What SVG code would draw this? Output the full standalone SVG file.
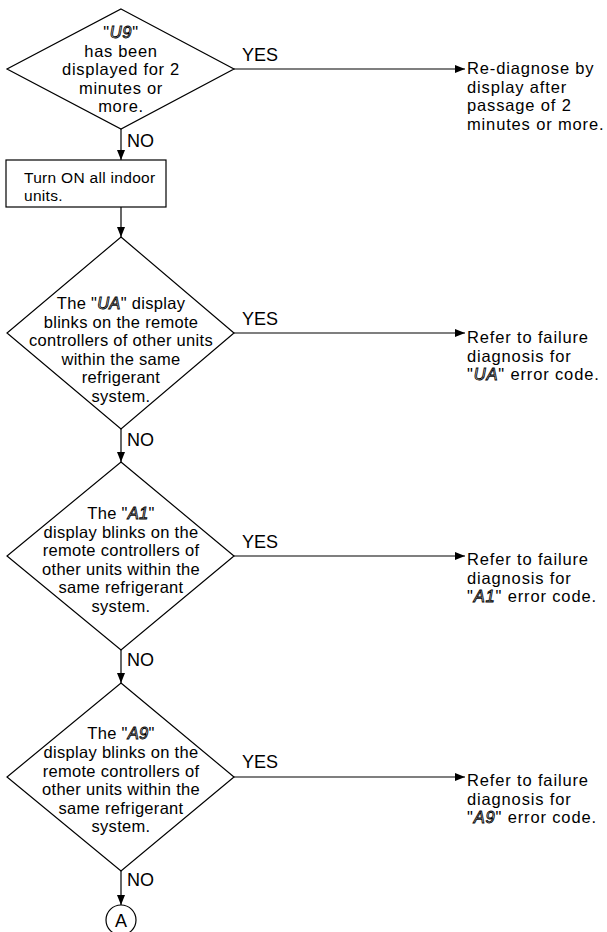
<svg xmlns="http://www.w3.org/2000/svg" width="607" height="932" viewBox="0 0 607 932">
<style>
text{font-family:"Liberation Sans",Arial,sans-serif;font-size:16.5px;letter-spacing:0.3px;fill:#000}
.c{text-anchor:middle}
.d1{letter-spacing:0.7px}
.rt{letter-spacing:0.85px}
.lb{font-size:18px;letter-spacing:0}
.bx{font-size:15.5px;letter-spacing:0.3px}
.seg{font-style:italic;fill:#fff;stroke:#000;stroke-width:0.9px}
.shape{fill:#fff;stroke:#000;stroke-width:1.2}
.ln{fill:none;stroke:#000;stroke-width:1.2}
</style>
<defs>
<marker id="ah" viewBox="0 0 10 8" refX="10" refY="4" markerWidth="10" markerHeight="8" markerUnits="userSpaceOnUse" orient="auto">
<path d="M0,0 L10,4 L0,8 Z" fill="#000"/>
</marker>
</defs>
<rect width="607" height="932" fill="#fff"/>
<g id="connectors">
<line class="ln" x1="121" y1="129" x2="121" y2="160" marker-end="url(#ah)"/>
<line class="ln" x1="121" y1="207" x2="121" y2="237" marker-end="url(#ah)"/>
<line class="ln" x1="121" y1="429" x2="121" y2="462" marker-end="url(#ah)"/>
<line class="ln" x1="121" y1="650" x2="121" y2="683" marker-end="url(#ah)"/>
<line class="ln" x1="121" y1="871" x2="121" y2="905" marker-end="url(#ah)"/>
<line class="ln" x1="234" y1="69" x2="465" y2="69" marker-end="url(#ah)"/>
<line class="ln" x1="234" y1="333" x2="465" y2="333" marker-end="url(#ah)"/>
<line class="ln" x1="234" y1="556" x2="465" y2="556" marker-end="url(#ah)"/>
<line class="ln" x1="234" y1="777" x2="465" y2="777" marker-end="url(#ah)"/>
<text class="lb" x="242" y="61">YES</text>
<text class="lb" x="242" y="325">YES</text>
<text class="lb" x="242" y="548">YES</text>
<text class="lb" x="242" y="768">YES</text>
<text class="lb" x="127" y="147">NO</text>
<text class="lb" x="127" y="446">NO</text>
<text class="lb" x="127" y="666">NO</text>
<text class="lb" x="127" y="886">NO</text>
</g>
<g id="d1">
<polygon class="shape" points="121,9 234,69 121,129 7,69"/>
<text class="c d1" x="121" y="38">"<tspan class="seg">U9</tspan>"</text>
<text class="c d1" x="121" y="56.5">has been</text>
<text class="c d1" x="121" y="75">displayed for 2</text>
<text class="c d1" x="121" y="93.5">minutes or</text>
<text class="c d1" x="121" y="112">more.</text>
</g>
<g id="r1">
<text class="rt" x="467" y="74">Re-diagnose by</text>
<text class="rt" x="467" y="92.5">display after</text>
<text class="rt" x="467" y="111">passage of 2</text>
<text class="rt" x="467" y="129.5">minutes or more.</text>
</g>
<g id="box">
<rect class="shape" x="6" y="160" width="160" height="47"/>
<text class="bx" x="24" y="183">Turn ON all indoor</text>
<text class="bx" x="24" y="200.5">units.</text>
</g>
<g id="d2">
<polygon class="shape" points="121,237 234,333 121,429 7,333"/>
<text class="c" x="121" y="309">The "<tspan class="seg">UA</tspan>" display</text>
<text class="c" x="121" y="327.5">blinks on the remote</text>
<text class="c" x="121" y="346">controllers of other units</text>
<text class="c" x="121" y="364.5">within the same</text>
<text class="c" x="121" y="383">refrigerant</text>
<text class="c" x="121" y="401.5">system.</text>
</g>
<g id="r2">
<text class="rt" x="467" y="343">Refer to failure</text>
<text class="rt" x="467" y="361.5">diagnosis for</text>
<text class="rt" x="467" y="380">"<tspan class="seg">UA</tspan>" error code.</text>
</g>
<g id="d3">
<polygon class="shape" points="121,462 234,556 121,650 7,556"/>
<text class="c" x="121" y="519">The "<tspan class="seg">A1</tspan>"</text>
<text class="c" x="121" y="537.5">display blinks on the</text>
<text class="c" x="121" y="556">remote controllers of</text>
<text class="c" x="121" y="574.5">other units within the</text>
<text class="c" x="121" y="593">same refrigerant</text>
<text class="c" x="121" y="611.5">system.</text>
</g>
<g id="r3">
<text class="rt" x="467" y="565">Refer to failure</text>
<text class="rt" x="467" y="583.5">diagnosis for</text>
<text class="rt" x="467" y="602">"<tspan class="seg">A1</tspan>" error code.</text>
</g>
<g id="d4">
<polygon class="shape" points="121,683 234,777 121,871 7,777"/>
<text class="c" x="121" y="739">The "<tspan class="seg">A9</tspan>"</text>
<text class="c" x="121" y="758">display blinks on the</text>
<text class="c" x="121" y="776.5">remote controllers of</text>
<text class="c" x="121" y="795">other units within the</text>
<text class="c" x="121" y="813.5">same refrigerant</text>
<text class="c" x="121" y="832">system.</text>
</g>
<g id="r4">
<text class="rt" x="467" y="786">Refer to failure</text>
<text class="rt" x="467" y="804.5">diagnosis for</text>
<text class="rt" x="467" y="823">"<tspan class="seg">A9</tspan>" error code.</text>
</g>
<g id="connA">
<circle class="shape" cx="121" cy="920" r="15"/>
<text class="c lb" x="121" y="926.5">A</text>
</g>
</svg>
